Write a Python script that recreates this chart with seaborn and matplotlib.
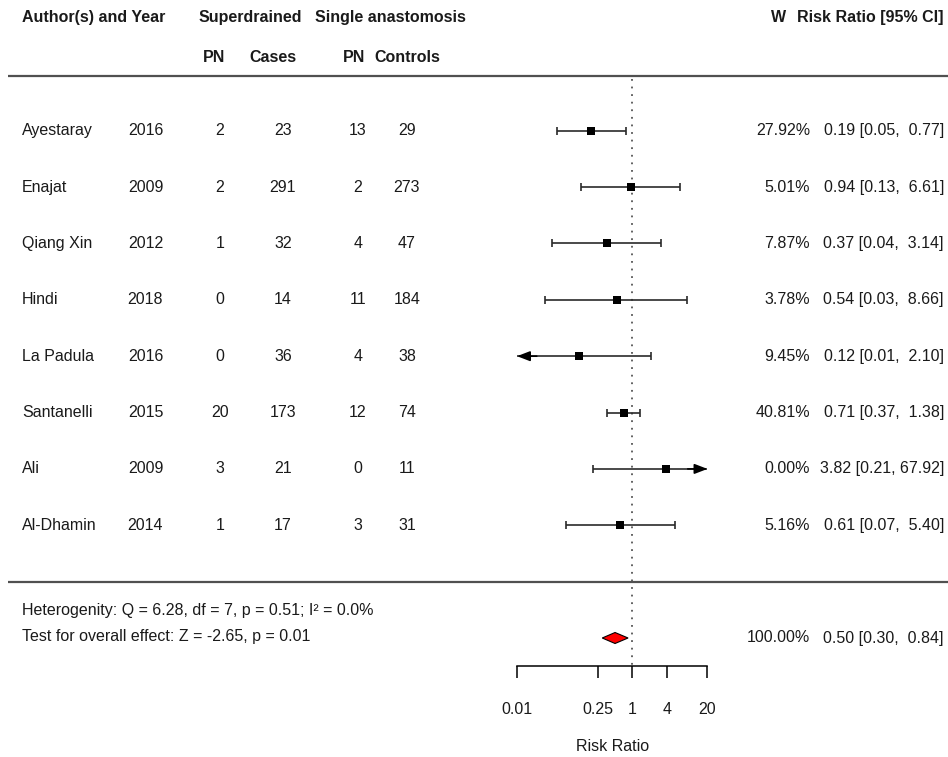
import matplotlib
matplotlib.use("Agg")
import matplotlib.pyplot as plt
from matplotlib.ticker import NullLocator
import numpy as np
import pandas as pd
import seaborn as sns

# ---------------- data ----------------
authors = ["Ayestaray", "Enajat", "Qiang Xin", "Hindi", "La Padula", "Santanelli", "Ali", "Al-Dhamin"]
years = [2016, 2009, 2012, 2018, 2016, 2015, 2009, 2014]
pn_super = [2, 2, 1, 0, 0, 20, 3, 1]
cases = [23, 291, 32, 14, 36, 173, 21, 17]
pn_single = [13, 2, 4, 11, 4, 12, 0, 3]
controls = [29, 273, 47, 184, 38, 74, 11, 31]
weights = [27.92, 5.01, 7.87, 3.78, 9.45, 40.81, 0.00, 5.16]
rr = [0.19, 0.94, 0.37, 0.54, 0.12, 0.71, 3.82, 0.61]
ci_lo = [0.05, 0.13, 0.04, 0.03, 0.01, 0.37, 0.21, 0.07]
ci_hi = [0.77, 6.61, 3.14, 8.66, 2.10, 1.38, 67.92, 5.40]

pooled_rr = 0.50
pooled_lo = 0.30
pooled_hi = 0.84
pooled_w = 100.00

tick_vals = [0.01, 0.25, 1, 4, 20]
tick_labels = ["0.01", "0.25", "1", "4", "20"]

het_text = "Heterogenity: Q = 6.28, df = 7, p = 0.51; I\u00b2 = 0.0%"
test_text = "Test for overall effect: Z = -2.65, p = 0.01"

# ---------------- style ----------------
sns.set_theme(style="white")
plt.rcParams["font.family"] = ["Liberation Sans", "DejaVu Sans"]
FS = 11.5
TXT = "#1a1a1a"

W, H = 948, 757
fig = plt.figure(figsize=(W / 100, H / 100), dpi=100)
fig.patch.set_facecolor("white")

bg = fig.add_axes([0, 0, 1, 1])
bg.set_xlim(0, W)
bg.set_ylim(H, 0)
bg.axis("off")

AX_L, AX_R, AX_B = 517, 707.5, 666
ax = fig.add_axes([AX_L / W, (H - AX_B) / H, (AX_R - AX_L) / W, AX_B / H])
ax.set_facecolor("none")

row0, step = 130.7, 56.37
ypos = [row0 + step * i for i in range(len(authors))]
y_pool = 638

df = pd.DataFrame({"rr": rr, "lo": ci_lo, "hi": ci_hi, "y": ypos})

xmin, xmax = tick_vals[0], tick_vals[-1]
arrow_style = "-|>,head_length=0.65,head_width=0.25"

# CI lines, caps, arrows
for _, r in df.iterrows():
    lo_c = max(r.lo, xmin)
    hi_c = min(r.hi, xmax)
    ax.hlines(r.y, lo_c, hi_c, color="#2a2a2a", lw=1.2, clip_on=False, zorder=2)
    if r.lo <= xmin:
        ax.annotate("", xy=(xmin, r.y), xytext=(xmin * 2.2, r.y),
                    arrowprops=dict(arrowstyle=arrow_style, mutation_scale=12,
                                    color="black", lw=1.2, shrinkA=0, shrinkB=0),
                    annotation_clip=False, zorder=3)
    else:
        ax.plot([r.lo], [r.y], marker="|", ms=6, mew=1.2, color="#2a2a2a", clip_on=False)
    if r.hi >= xmax:
        ax.annotate("", xy=(xmax, r.y), xytext=(xmax / 2.2, r.y),
                    arrowprops=dict(arrowstyle=arrow_style, mutation_scale=12,
                                    color="black", lw=1.2, shrinkA=0, shrinkB=0),
                    annotation_clip=False, zorder=3)
    else:
        ax.plot([r.hi], [r.y], marker="|", ms=6, mew=1.2, color="#2a2a2a", clip_on=False)

sns.scatterplot(data=df, x="rr", y="y", marker="s", s=27, color="black",
                edgecolor="black", linewidth=0, ax=ax, zorder=4, legend=False, clip_on=False)

# pooled diamond
hh = 5.5
ax.fill([pooled_lo, pooled_rr, pooled_hi, pooled_rr],
        [y_pool, y_pool - hh, y_pool, y_pool + hh],
        facecolor="#ff0000", edgecolor="black", lw=0.8, zorder=4, clip_on=False)

# reference line
ax.vlines(1, 79, AX_B, colors="#555555", lw=1.3, linestyles=(0, (1, 3.2)), zorder=1)

ax.set_xscale("log")
ax.set_xlim(xmin, xmax)
ax.set_ylim(AX_B, 0)
ax.set_xticks(tick_vals)
ax.set_xticklabels(tick_labels)
ax.xaxis.set_minor_locator(NullLocator())
ax.set_yticks([])
ax.set_ylabel("")
ax.set_xlabel("Risk Ratio", fontsize=FS, color=TXT, labelpad=16)
for s in ["top", "left", "right"]:
    ax.spines[s].set_visible(False)
ax.spines["bottom"].set_color("black")
ax.spines["bottom"].set_linewidth(1.1)
ax.tick_params(axis="x", direction="out", length=8.6, width=1.1, color="black",
               pad=17, labelsize=FS, labelcolor=TXT, bottom=True)
ax.grid(False)

# ---------------- text table ----------------
bold = dict(fontsize=FS, fontweight="bold", color=TXT, va="center")
bg.text(22, 17.5, "Author(s) and Year", ha="left", **bold)
bg.text(250, 17.5, "Superdrained", ha="center", **bold)
bg.text(390, 17.5, "Single anastomosis", ha="center", **bold)
bg.text(779, 17.5, "W", ha="center", **bold)
bg.text(944, 17.5, "Risk Ratio [95% CI]", ha="right", **bold)
bg.text(214, 57.5, "PN", ha="center", **bold)
bg.text(273, 57.5, "Cases", ha="center", **bold)
bg.text(354, 57.5, "PN", ha="center", **bold)
bg.text(407, 57.5, "Controls", ha="center", **bold)

bg.hlines([76, 582], 8, W, colors="#505050", lw=1.6)

norm = dict(fontsize=FS, color=TXT, va="center")
for i, y in enumerate(ypos):
    bg.text(22, y, authors[i], ha="left", **norm)
    bg.text(145.5, y, str(years[i]), ha="center", **norm)
    bg.text(220, y, str(pn_super[i]), ha="center", **norm)
    bg.text(283, y, str(cases[i]), ha="center", **norm)
    bg.text(358, y, str(pn_single[i]), ha="center", **norm)
    bg.text(407, y, str(controls[i]), ha="center", **norm)
    bg.text(810, y, f"{weights[i]:.2f}%", ha="right", **norm)
    bg.text(944, y, f"{rr[i]:.2f} [{ci_lo[i]:.2f}, {ci_hi[i]:5.2f}]", ha="right", **norm)

bg.text(22, 610, het_text, ha="left", **norm)
bg.text(22, 636.5, test_text, ha="left", **norm)
bg.text(810, y_pool, f"{pooled_w:.2f}%", ha="right", **norm)
bg.text(944, y_pool, f"{pooled_rr:.2f} [{pooled_lo:.2f}, {pooled_hi:5.2f}]", ha="right", **norm)

fig.savefig("out.png", dpi=100)
